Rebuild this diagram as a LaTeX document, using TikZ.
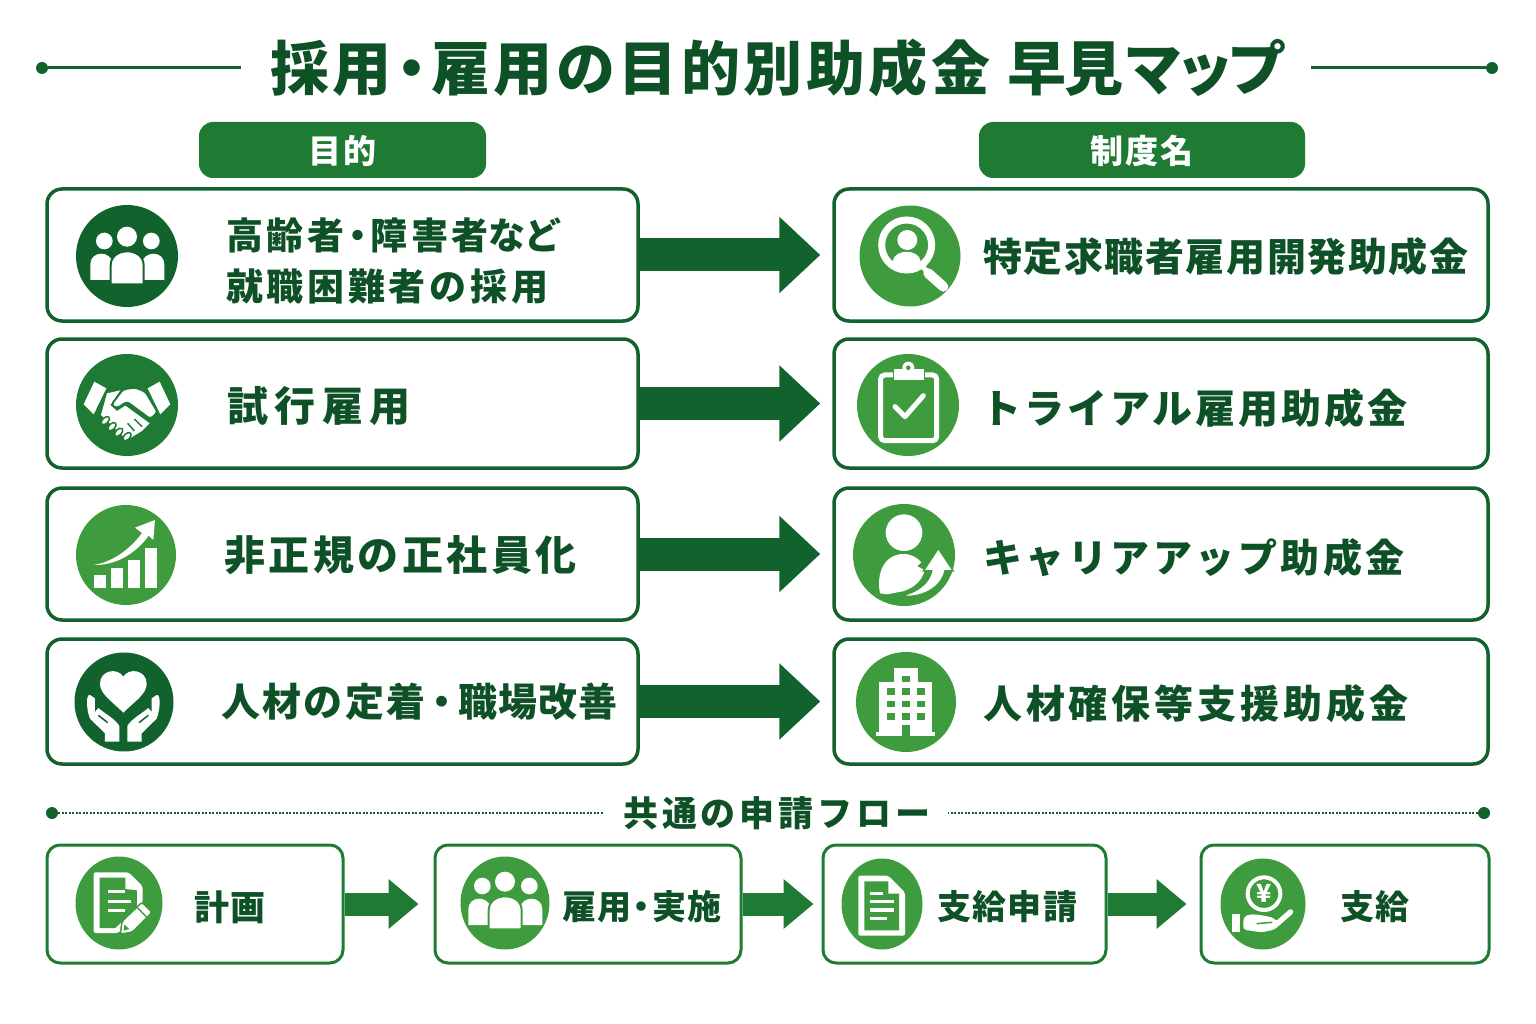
\documentclass[tikz,border=0pt]{standalone}
\usepackage{fontspec}
\setmainfont{Noto Sans CJK JP}
\usetikzlibrary{arrows.meta,shapes.geometric}
\definecolor{ink}{HTML}{0E5127}
\definecolor{deep}{HTML}{11622D}
\definecolor{midg}{HTML}{1F7A34}
\definecolor{leaf}{HTML}{3F9C3E}
\newcommand{\ndot}[1][.7em]{\makebox[#1]{・}}
\tikzset{
    lab/.style 2 args={font=\bfseries\fontsize{#1}{#1}\selectfont\addfontfeature{LetterSpace=#2},
        text=ink,inner sep=0pt,anchor=west},
    rowbox/.style={draw=deep,line width=3.5pt,rounded corners=15pt,fill=white,inner sep=0pt},
    flowbox/.style={draw=midg,line width=3pt,rounded corners=13pt,fill=white,inner sep=0pt},
    pill/.style={fill=midg,rounded corners=14pt,inner sep=0pt,text=white,text height=27pt,text depth=0pt,
        font=\bfseries\fontsize{33}{33}\selectfont\addfontfeature{LetterSpace=7}},
    disc/.style={circle,inner sep=0pt,minimum size=#1},
    oval/.style 2 args={ellipse,inner sep=0pt,minimum width=#1,minimum height=#2},
    enddot/.style={circle,fill=deep,inner sep=0pt,minimum size=#1},
    bigarrow/.style={draw=deep,line width=33pt,shorten >=12pt,
        -{Triangle[length=41pt,width=74pt]}},
    smallarrow/.style={draw=midg,line width=23pt,-{Triangle[length=30pt,width=48pt]}},
    icon/.style 2 args={shift={(#1-50,#2-50)},x=0.3333pt,y=-0.3333pt}
}
\newcommand{\peopleicon}[3]{
    \begin{scope}[icon={#1}{#2}]
        \fill[white] (82,105) circle (25);
        \fill[white] (223,105) circle (25);
        \fill[white] (40,222) -- (40,175) .. controls (40,135) and (100,130) .. (110,175) -- (110,222) -- cycle;
        \fill[white] (262,222) -- (262,175) .. controls (262,135) and (202,130) .. (192,175) -- (192,222) -- cycle;
        \fill[white,draw=#3,line width=2pt] (101,235) -- (101,178) .. controls (101,122) and (200,122) .. (200,178) -- (200,235) -- cycle;
        \fill[white] (150,92) circle (30);
    \end{scope}
}
\newcommand{\shakeicon}[3]{
    \begin{scope}[icon={#1}{#2}]
        \fill[white] (52,80) -- (88,100) -- (50,178) -- (20,148) -- cycle;
        \fill[white] (248,80) -- (212,100) -- (250,178) -- (280,148) -- cycle;
        \fill[white] (90,115) -- (130,106) -- (100,150) -- (120,168) -- (145,152) -- (218,205) -- (195,228) -- (150,255) -- (72,180) -- cycle;
        \fill[white,draw=#3,line width=1.8pt,rounded corners=3pt] (138,103) -- (175,98) -- (205,110) -- (242,172) -- (220,192) -- (150,140) -- (120,160) -- (103,150) -- cycle;
        \foreach \fx/\fy in {85/197,105/215,125/232,150/245}
            \fill[white,draw=#3,line width=1.5pt,rotate around={45:(\fx,\fy)}] (\fx,\fy) ellipse (15 and 9);
        \draw[#3,line width=1.5pt] (172,228) -- (152,205) (195,215) -- (172,192);
    \end{scope}
}
\newcommand{\chartIcon}[3]{
    \begin{scope}[icon={#1}{#2}]
        \fill[white] (54,210) rectangle (90,250);
        \fill[white] (105,190) rectangle (142,250);
        \fill[white] (156,166) rectangle (192,250);
        \fill[white] (206,130) rectangle (242,250);
        \fill[white] (52,180) .. controls (110,172) and (165,130) .. (198,84) -- (177,68) -- (237,45) -- (232,105) -- (218,92) .. controls (180,145) and (120,182) .. (52,180) -- cycle;
    \end{scope}
}
\newcommand{\careicon}[3]{
    \begin{scope}[icon={#1}{#2}]
        \fill[white] (148,182) .. controls (110,145) and (78,125) .. (78,95) .. controls (78,55) and (130,45) .. (148,74) .. controls (166,45) and (218,55) .. (218,95) .. controls (218,125) and (186,145) .. (148,182) -- cycle;
        \foreach \sgn in {-1,1}{
            \fill[white] (148+\sgn*100,129) .. controls (148+\sgn*112,125) and (148+\sgn*112,170) .. (148+\sgn*100,200) -- (148+\sgn*55,244) -- (148+\sgn*55,269) -- (148+\sgn*12,269) -- (148+\sgn*12,222) .. controls (148+\sgn*25,200) and (148+\sgn*55,185) .. (148+\sgn*75,168) -- (148+\sgn*85,180) -- (148+\sgn*85,139) -- cycle;
            \draw[#3,line width=1.5pt] (148+\sgn*75,190) -- (148+\sgn*47,212);
        }
    \end{scope}
}
\newcommand{\searchicon}[3]{
    \begin{scope}[icon={#1}{#2}]
        \draw[white,line width=7pt] (140,117) circle (75);
        \fill[white] (142,102) circle (30);
        \fill[white] (98,165) .. controls (105,128) and (175,128) .. (182,165) .. controls (165,192) and (115,192) .. (98,165) -- cycle;
        \draw[white,line width=5pt] (185,178) -- (205,202);
        \draw[white,line width=10pt,line cap=round] (205,202) -- (250,242);
    \end{scope}
}
\newcommand{\clipicon}[3]{
    \begin{scope}[icon={#1}{#2}]
        \draw[white,line width=5pt,rounded corners=4pt] (68,60) rectangle (236,257);
        \fill[white,draw=#3,line width=1pt] (106,40) rectangle (199,77);
        \fill[white] (151,38) circle (18);
        \fill[#3] (151,38) circle (7);
        \draw[white,line width=5pt,line cap=round,line join=round] (111,155) -- (141,185) -- (196,122);
    \end{scope}
}
\newcommand{\riseicon}[3]{
    \begin{scope}[icon={#1}{#2}]
        \fill[white] (150,83) circle (55);
        \fill[white] (78,265) .. controls (65,200) and (95,147) .. (148,147) .. controls (172,147) and (190,158) .. (202,172) -- (190,184) -- (212,195) .. controls (205,230) and (170,258) .. (130,262) -- (100,268) -- cycle;
        \fill[white,draw=#3,line width=1.5pt] (138,273) .. controls (190,262) and (225,235) .. (233,198) -- (208,198) -- (253,130) -- (298,198) -- (273,198) .. controls (262,250) and (200,282) .. (138,273) -- cycle;
    \end{scope}
}
\newcommand{\towericon}[3]{
    \begin{scope}[icon={#1}{#2}]
        \fill[white] (60,239) rectangle (237,251);
        \fill[white] (115,48) rectangle (185,89);
        \fill[white] (70,89) rectangle (227,239);
        \fill[#3] (137,219) rectangle (162,251);
        \fill[#3] (137,71) rectangle (162,91);
        \foreach \wy in {109,146,183}
            \foreach \wx in {92,137,182}
                \fill[#3] (\wx,\wy) rectangle (\wx+24,\wy+20);
    \end{scope}
}
\newcommand{\penicon}[3]{
    \begin{scope}[icon={#1}{#2}]
        \fill[white,rounded corners=2pt] (65,58) -- (170,58) -- (212,100) -- (212,150) -- (140,240) -- (65,240) -- cycle;
        \fill[#3] (83,74) -- (160,74) -- (160,108) -- (195,112) -- (195,165) -- (130,225) -- (83,225) -- cycle;
        \draw[white,line width=3.5pt] (108,115) -- (158,115) (108,145) -- (178,145) (108,172) -- (158,172);
        \fill[white,draw=#3,line width=1.5pt,rounded corners=2pt] (150,205) -- (210,148) -- (240,178) -- (180,238) -- (145,243) -- cycle;
        \draw[#3,line width=1.5pt] (195,163) -- (225,193);
        \fill[#3] (157,215) -- (172,228) -- (155,233) -- cycle;
    \end{scope}
}
\newcommand{\docicon}[3]{
    \begin{scope}[icon={#1}{#2}]
        \fill[white,rounded corners=2pt] (70,68) -- (160,68) -- (210,118) -- (210,248) -- (70,248) -- cycle;
        \fill[#3] (88,85) -- (160,85) -- (160,122) -- (192,122) -- (192,232) -- (88,232) -- cycle;
        \draw[white,line width=3.5pt] (105,122) -- (143,122) (105,146) -- (178,146) (105,171) -- (178,171) (105,197) -- (157,197);
    \end{scope}
}
\newcommand{\yenicon}[3]{
    \begin{scope}[icon={#1}{#2}]
        \draw[white,line width=4pt] (147,122) circle (49);
        \node[text=white,inner sep=0pt,font=\bfseries\fontsize{25}{25}\selectfont] (yen) at (147,122) {¥};
        \fill[white] (50,183) rectangle (75,238);
        \fill[white,rounded corners=3pt] (85,195) .. controls (105,180) and (135,185) .. (178,195) -- (181,206) -- (228,165) -- (238,178) -- (178,230) -- (140,238) -- (85,230) -- cycle;
        \draw[#3,line width=1.5pt] (125,212) -- (172,208);
    \end{scope}
}
\begin{document}
\begin{tikzpicture}[x=1pt,y=-1pt]
    \useasboundingbox (0,0) rectangle (1536,1024);

    \node[lab={59}{6}] (title) at (270,68) {採用\ndot[.67em]雇用の目的別助成金 {\addfontfeature{LetterSpace=-3}早見}{\addfontfeature{LetterSpace=-12}マップ}};
    \node[enddot=12pt] (topl) at (42,68) {};
    \node[enddot=12pt] (topr) at (1492,68) {};
    \coordinate (toplend) at (241,68);
    \coordinate (toprend) at (1311,68);
    \draw[deep,line width=3pt] (topl) -- (toplend);
    \draw[deep,line width=3pt] (topr) -- (toprend);

    \node[pill,minimum width=287pt,minimum height=56pt] (headl) at (342.5,150) {目的};
    \node[pill,minimum width=326pt,minimum height=56pt] (headr) at (1142,150) {制度名};

    \node[rowbox,minimum width=591pt,minimum height=132pt] (goala) at (342.5,255) {};
    \node[rowbox,minimum width=591pt,minimum height=129pt] (goalb) at (342.5,403.5) {};
    \node[rowbox,minimum width=591pt,minimum height=132pt] (goalc) at (342.5,554) {};
    \node[rowbox,minimum width=591pt,minimum height=125pt] (goald) at (342.5,701.5) {};

    \node[rowbox,minimum width=654pt,minimum height=132pt] (plana) at (1161,255) {};
    \node[rowbox,minimum width=654pt,minimum height=129pt] (planb) at (1161,403.5) {};
    \node[rowbox,minimum width=654pt,minimum height=132pt] (planc) at (1161,554) {};
    \node[rowbox,minimum width=654pt,minimum height=125pt] (pland) at (1161,701.5) {};

    \draw[bigarrow] (goala) -- (plana);
    \draw[bigarrow] (goalb) -- (planb);
    \draw[bigarrow] (goalc) -- (planc);
    \draw[bigarrow] (goald) -- (pland);

    \node[disc=102pt,fill=deep] (icga) at (127,256) {};
    \peopleicon{127}{256}{deep}
    \node[disc=102pt,fill=midg] (icgb) at (127,405) {};
    \shakeicon{127}{405}{midg}
    \node[disc=100pt,fill=leaf] (icgc) at (126,555) {};
    \chartIcon{126}{555}{leaf}
    \node[disc=99pt,fill=deep] (icgd) at (124,702) {};
    \careicon{124}{702}{deep}

    \node[disc=101pt,fill=leaf] (icpa) at (910,256) {};
    \searchicon{910}{256}{leaf}
    \node[disc=102pt,fill=leaf] (icpb) at (908,405) {};
    \clipicon{908}{405}{leaf}
    \node[disc=102pt,fill=leaf] (icpc) at (904,555) {};
    \riseicon{904}{555}{leaf}
    \node[disc=100pt,fill=leaf] (icpd) at (906,702) {};
    \towericon{906}{702}{leaf}

    \node[lab={37}{10},align=left] (txga) at (226,261) {高齢者\ndot 障害者{\addfontfeature{LetterSpace=-3}など}\\[14pt]就職困難者の採用};
    \node[lab={41}{16}] (txgb) at (227,406) {試行雇用};
    \node[lab={41}{8.5}] (txgc) at (224,555) {非正規の正社員化};
    \node[lab={39}{6}] (txgd) at (221,702) {人材の定着\ndot[.85em]{\addfontfeature{LetterSpace=2}職場改善}};

    \node[lab={39}{4}] (txpa) at (983,257) {特定求職者雇用開発助成金};
    \node[lab={40}{7.5}] (txpb) at (981,408) {トライアル雇用助成金};
    \node[lab={39}{9}] (txpc) at (983,558) {キャリアアップ助成金};
    \node[lab={39}{10}] (txpd) at (983,704) {人材確保等支援助成金};

    \node[lab={35}{11}] (flowt) at (623,813) {共通の申請フロー};
    \node[enddot=12pt] (flowl) at (52,813) {};
    \node[enddot=12pt] (flowr) at (1484,813) {};
    \coordinate (flowlend) at (604,813);
    \coordinate (flowrend) at (948,813);
    \draw[deep,line width=2.5pt,dash pattern=on 2pt off 1.5pt] (flowl) -- (flowlend);
    \draw[deep,line width=2.5pt,dash pattern=on 2pt off 1.5pt] (flowr) -- (flowrend);

    \node[flowbox,minimum width=296pt,minimum height=118pt] (stepa) at (195,904) {};
    \node[flowbox,minimum width=306pt,minimum height=118pt] (stepb) at (588,904) {};
    \node[flowbox,minimum width=283pt,minimum height=118pt] (stepc) at (964.5,904) {};
    \node[flowbox,minimum width=288pt,minimum height=118pt] (stepd) at (1345,904) {};

    \draw[smallarrow,shorten >=15pt] (stepa) -- (stepb);
    \draw[smallarrow,shorten >=8pt] (stepb) -- (stepc);
    \draw[smallarrow,shorten >=13pt] (stepc) -- (stepd);

    \node[oval={87pt}{93pt},fill=leaf] (icsa) at (119,903) {};
    \penicon{122}{903}{leaf}
    \node[oval={89pt}{93pt},fill=leaf] (icsb) at (505,903) {};
    \peopleicon{505}{901}{leaf}
    \node[oval={81pt}{91pt},fill=leaf] (icsc) at (882,904) {};
    \docicon{885}{903}{leaf}
    \node[oval={85pt}{91pt},fill=leaf] (icsd) at (1263,904) {};
    \yenicon{1265}{903}{leaf}

    \node[lab={35}{3}] (txsa) at (194,907) {計画};
    \node[lab={34}{4}] (txsb) at (562,907) {雇用\ndot[.6em]実施};
    \node[lab={34}{4}] (txsc) at (937,907) {支給申請};
    \node[lab={34}{4}] (txsd) at (1340,907) {支給};
\end{tikzpicture}
\end{document}
